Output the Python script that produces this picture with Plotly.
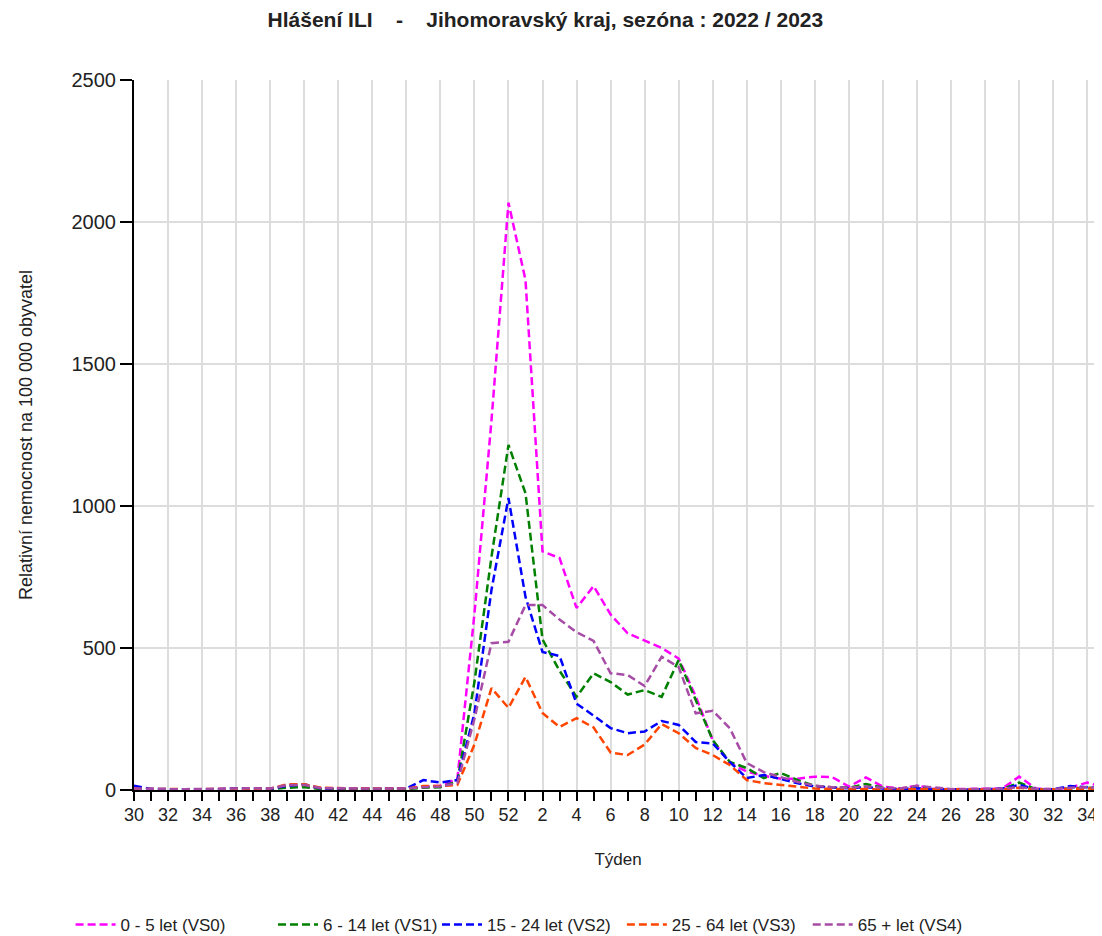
import plotly.graph_objects as go

# tydny sezony 2022/2023 (30..52, 1..35)
weeks = list(range(30, 53)) + list(range(1, 36))

vs0 = [5, 3, 2, 2, 3, 3, 5, 5, 5, 12, 12, 5, 5, 5, 5, 5, 5, 12, 15, 40, 620, 1300, 2068,
       1796, 840, 817, 641, 718, 618, 552, 525, 500, 463, 330, 175, 95, 65, 50, 40, 40, 47,
       46, 12, 44, 12, 5, 15, 5, 3, 3, 3, 5, 47, 5, 3, 8, 26, 10]
vs1 = [3, 2, 2, 2, 2, 2, 3, 3, 3, 8, 10, 3, 3, 3, 3, 3, 3, 8, 10, 30, 380, 820, 1215,
       1045, 530, 420, 328, 411, 380, 336, 352, 328, 458, 317, 176, 99, 77, 42, 60, 35, 14,
       10, 8, 21, 8, 4, 8, 3, 2, 2, 2, 3, 26, 3, 2, 5, 8, 5]
vs2 = [15, 4, 3, 3, 3, 3, 6, 6, 4, 15, 20, 5, 5, 5, 5, 5, 5, 35, 26, 35, 270, 704, 1028,
       680, 486, 472, 304, 262, 218, 200, 206, 243, 229, 169, 164, 99, 42, 53, 38, 24, 12,
       8, 6, 10, 5, 3, 6, 3, 2, 2, 3, 5, 18, 3, 3, 14, 10, 5]
vs3 = [4, 3, 3, 3, 3, 3, 5, 5, 5, 20, 20, 8, 6, 6, 6, 6, 5, 14, 14, 18, 160, 359, 289,
       398, 271, 222, 253, 220, 132, 123, 160, 232, 200, 148, 123, 88, 35, 24, 18, 10, 5,
       4, 3, 4, 3, 2, 3, 2, 2, 2, 2, 2, 8, 2, 2, 4, 5, 3]
vs4 = [5, 3, 3, 3, 4, 3, 6, 6, 5, 18, 18, 6, 6, 6, 6, 6, 5, 10, 12, 25, 250, 517, 522,
       651, 651, 600, 556, 525, 411, 405, 366, 469, 433, 270, 279, 218, 95, 63, 46, 28, 15,
       10, 8, 12, 8, 5, 15, 8, 3, 3, 3, 5, 10, 4, 3, 8, 10, 5]

names = ["0 - 5 let (VS0)", "6 - 14 let (VS1)", "15 - 24 let (VS2)",
         "25 - 64 let (VS3)", "65 + let (VS4)"]
colors = ["#ff00ff", "#008000", "#0000ff", "#ff4500", "#a64ca6"]
# kazda polozka legendy zvlast (nepravidelne rozestupy jako v originale)
legend_x = [-0.0655, 0.1436, 0.313, 0.504, 0.696]

x = list(range(len(weeks)))
fig = go.Figure()
for k, (nm, vals, c) in enumerate(zip(names, [vs0, vs1, vs2, vs3, vs4], colors)):
    lg = "legend" if k == 0 else f"legend{k+1}"
    fig.add_trace(go.Scatter(x=x, y=vals, name=nm, mode="lines", legend=lg,
                             line=dict(color=c, width=2.5, dash="8px,4px")))
    fig.update_layout({lg: dict(orientation="h", x=legend_x[k], xanchor="left",
                                y=-0.19, yanchor="middle", itemwidth=40,
                                font=dict(size=17, color="#222"),
                                bgcolor="rgba(0,0,0,0)")})

tick_idx = [i for i, w in enumerate(weeks) if w % 2 == 0]
tick_txt = [str(weeks[i]) for i in tick_idx]

fig.update_xaxes(range=[0, 56.87], tickmode="array", tickvals=tick_idx, ticktext=tick_txt,
                 ticks="outside", ticklen=9, tickcolor="black", tickwidth=2,
                 minor=dict(tickmode="linear", tick0=0, dtick=1, ticks="outside",
                            ticklen=9, tickcolor="black", tickwidth=2, showgrid=False),
                 showline=True, linecolor="black", linewidth=2, automargin=False,
                 showgrid=True, gridcolor="#dddddd", gridwidth=2,
                 tickfont=dict(size=18, color="#222"), zeroline=False, ticklabelstandoff=-2,
                 title=dict(text="Týden", font=dict(size=17, color="#222"), standoff=30))
fig.update_yaxes(range=[0, 2500], dtick=500, ticks="outside", ticklen=12,
                 tickcolor="black", tickwidth=2, automargin=False,
                 showline=True, linecolor="black", linewidth=2,
                 showgrid=True, gridcolor="#dddddd", gridwidth=2, zeroline=False,
                 tickfont=dict(size=20, color="#222"),
                 title=dict(text="Relativní nemocnost na 100 000 obyvatel",
                            font=dict(size=18, color="#222"), standoff=34))

# stranka ma 8px okraj -> obrazek o 8px mensi
fig.update_layout(
    width=1094, height=928,
    margin=dict(l=126, r=0, t=72, b=146, autoexpand=False),
    plot_bgcolor="white", paper_bgcolor="white",
    font=dict(family="Liberation Sans, Arial, sans-serif"),
    title=dict(text="<b>Hlášení ILI    -    Jihomoravský kraj, sezóna : 2022 / 2023</b>",
               x=0.138, xref="paper", xanchor="left", y=0.987, yanchor="middle",
               font=dict(size=21, color="#222")),
    showlegend=True,
)

fig.write_html("out.html")
